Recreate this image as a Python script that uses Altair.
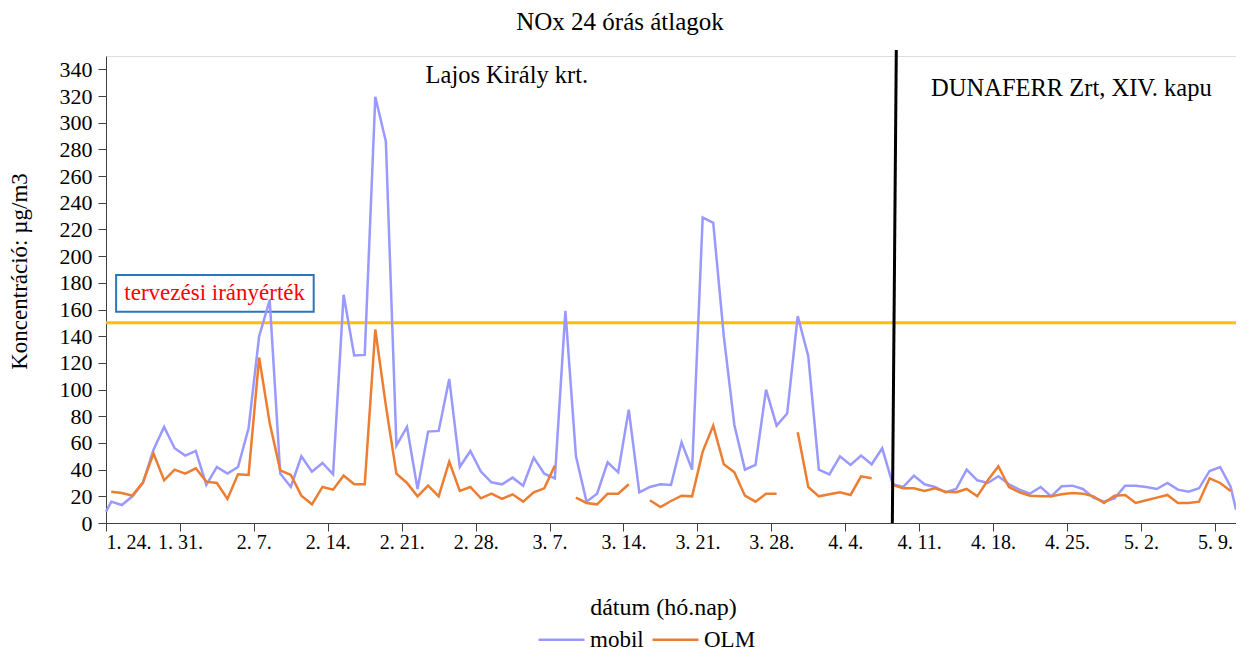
import altair as alt
import pandas as pd

FONT = "Liberation Serif"

# ---- data ----
first_day = "2019-01-24 12:00"   # daily 24h averages, 1.24 ... 5.10
mobil = [16, 13.5, 20, 30, 55, 72, 56, 50.5, 54, 28.5,
         42, 37, 42, 71, 140, 167, 37, 27, 50, 38.5,
         45, 36.5, 171, 125.5, 126, 319.5, 286, 58, 72, 25.5,
         68.5, 69, 108, 42, 54, 38.5, 30.5, 29, 34, 28,
         49, 37, 33.5, 159, 50, 16, 22, 45.5, 38, 85,
         23, 27, 29, 28.5, 60.5, 40, 229, 225, 140, 73.5,
         40, 43.5, 100, 73, 82, 155, 125, 40, 36.5, 50,
         43.5, 50.5, 44, 56, 29, 27, 35.5, 29, 27, 23,
         25.5, 40, 32, 30, 35, 29, 25, 22, 27, 20,
         27.5, 28, 25.5, 19, 16, 18.5, 28, 28, 27, 25.5,
         30, 25, 23.5, 26, 39, 42, 27]
olm = [23.5, 22.5, 20.5, 30.5, 52, 32, 40, 37, 41, 31,
       30, 18, 36.5, 36, 124, 75, 39.5, 36, 20.5, 14,
       27, 25, 35.5, 29, 29, 145, 88, 37, 30, 20,
       28, 20, 46, 24, 27, 18.5, 22, 18, 21.5, 16,
       23, 26, 43, None, 19, 15, 14, 22, 22, 29,
       None, 17, 12, 16.5, 20.5, 20, 53.5, 73, 44, 38,
       20.5, 16, 22, 22, None, 68, 27, 20, 21.5, 23,
       21, 35, 33.5, None, 28.5, 26, 26, 24, 26, 23.5,
       23, 25.5, 20, 32, 42.5, 27, 23, 20.5, 20, 20,
       21.5, 22.5, 22, 20, 15, 20.5, 21, 15, 17, 19,
       21, 15, 15, 16, 33.5, 30, 24]
mobil_edge_dates = ["2019-01-24T00:00:00", "2019-05-11T00:00:00"]
mobil_edge_values = [8.5, 10]

series_names = ["mobil", "OLM"]
series_colors = ["#9999FF", "#ED7D31"]

tick_dates = [(1, 24), (1, 31), (2, 7), (2, 14), (2, 21), (2, 28), (3, 7), (3, 14),
              (3, 21), (3, 28), (4, 4), (4, 11), (4, 18), (4, 25), (5, 2), (5, 9)]
y_ticks = list(range(0, 341, 20))

chart_title = ["NOx 24 órás átlagok"]

limit_value = [150]
limit_label = ["tervezési irányérték"]
limit_box_x = ["2019-01-24T23:00:00", "2019-02-12T16:00:00"]
limit_box_y = [158.4, 185.9]
limit_label_pos = ["2019-02-03T07:00:00", 172.5]

site_labels = ["Lajos Király krt.", "DUNAFERR Zrt, XIV. kapu"]
site_label_x = ["2019-03-02T23:00:00", "2019-04-25T10:00:00"]
site_label_y = [335, 325]

divider_x = ["2019-04-08T20:00:00", "2019-04-08T11:00:00"]   # top, bottom
divider_y = [354.5, 0]

# ---- build table ----
dates = pd.date_range(first_day, periods=len(mobil), freq="D").strftime("%Y-%m-%dT%H:%M:%S")
rows = []
rows.append(dict(date=mobil_edge_dates[0], value=mobil_edge_values[0], series="mobil", seg="mobil0"))
for name, vals in (("mobil", mobil), ("OLM", olm)):
    seg = 0
    for d, v in zip(dates, vals):
        if v is None:
            seg += 1
            continue
        rows.append(dict(date=d, value=v, series=name, seg=f"{name}{seg}"))
    if name == "mobil":
        rows.append(dict(date=mobil_edge_dates[1], value=mobil_edge_values[1], series="mobil", seg="mobil0"))
df = pd.DataFrame(rows)

x_scale = alt.Scale(domain=[alt.DateTime(year=2019, month=1, date=24),
                            alt.DateTime(year=2019, month=5, date=11)], nice=False)
y_scale = alt.Scale(domain=[0, 350], nice=False)

x_axis = alt.Axis(
    values=[alt.DateTime(year=2019, month=m, date=d) for m, d in tick_dates],
    format="%-m. %-d.", labelFont=FONT, labelFontSize=20, labelColor="black",
    tickSize=8, tickColor="#404040", domainColor="#404040", labelPadding=1,
    grid=False, labelFlush=True, labelOverlap=False,
    title="dátum (hó.nap)", titleFont=FONT, titleFontSize=24, titleFontWeight="normal",
    titleColor="black", titleX=557, titleY=84, titleBaseline="middle", titleAlign="center",
)
y_axis = alt.Axis(
    values=y_ticks, labelFont=FONT, labelFontSize=22, labelColor="black", labelOverlap=False,
    tickSize=8, tickColor="#404040", domainColor="#404040", labelPadding=6, grid=False,
    title="Koncentráció: µg/m3", titleFont=FONT, titleFontSize=23, titleFontWeight="normal",
    titleColor="black", titleX=-87, titleY=215, titleBaseline="middle", titleAlign="center",
    titleAngle=270,
)


def X(field):
    return alt.X(field, scale=x_scale, axis=x_axis)


def Y(field):
    return alt.Y(field, scale=y_scale, axis=y_axis)


box_df = pd.DataFrame(dict(x=[limit_box_x[0]], x2=[limit_box_x[1]], y=[limit_box_y[0]], y2=[limit_box_y[1]]))
box = alt.Chart(box_df).mark_rect(fill="white", stroke="#2E75B6", strokeWidth=2).encode(
    x=X("x:T"), x2="x2:T", y=Y("y:Q"), y2="y2:Q")

limit_df = pd.DataFrame(dict(v=limit_value))
limit = alt.Chart(limit_df).mark_rule(color="#FFC000", strokeWidth=3).encode(y=Y("v:Q"))

lines = alt.Chart(df).mark_line(strokeWidth=2.5).encode(
    x=X("date:T"), y=Y("value:Q"),
    color=alt.Color("series:N", scale=alt.Scale(domain=series_names, range=series_colors),
                    legend=alt.Legend(title=None, orient="none", legendX=431, legendY=559,
                                      direction="horizontal", symbolType="stroke",
                                      symbolSize=2116, symbolStrokeWidth=2.5,
                                      labelFont=FONT, labelFontSize=23, labelColor="black",
                                      columnPadding=3, labelOffset=4)),
    detail="seg:N",
)

div_df = pd.DataFrame(dict(x=[divider_x[0]], x2=[divider_x[1]], y=[divider_y[0]], y2=[divider_y[1]]))
divider = alt.Chart(div_df).mark_rule(color="black", strokeWidth=3).encode(
    x=X("x:T"), x2="x2:T", y=Y("y:Q"), y2="y2:Q")

lbl_df = pd.DataFrame(dict(x=[limit_label_pos[0]], y=[limit_label_pos[1]], t=limit_label))
limit_text = alt.Chart(lbl_df).mark_text(font=FONT, fontSize=23, color="#FF0000",
                                         align="center", baseline="middle").encode(
    x=X("x:T"), y=Y("y:Q"), text="t:N")

site_df = pd.DataFrame(dict(x=site_label_x, y=site_label_y, t=site_labels))
site_text = alt.Chart(site_df).mark_text(font=FONT, fontSize=24.5, color="black",
                                         align="center", baseline="middle").encode(
    x=X("x:T"), y=Y("y:Q"), text="t:N")

title_df = pd.DataFrame(dict(t=chart_title))
title_text = alt.Chart(title_df).mark_text(font=FONT, fontSize=25, color="black",
                                           align="center", baseline="middle").encode(
    x=alt.value(514), y=alt.value(-34), text="t:N")

chart = alt.layer(box, limit, lines, divider, limit_text, site_text, title_text).properties(
    width=1130, height=467,
    autosize=alt.AutoSizeParams(type="none"),
    padding={"left": 98, "top": 48, "right": 0, "bottom": 130},
).configure_view(stroke=None).configure_axis(labelOverlap=False).configure(background="white")

chart.save("out.html", embed_options={"renderer": "svg", "actions": False})
